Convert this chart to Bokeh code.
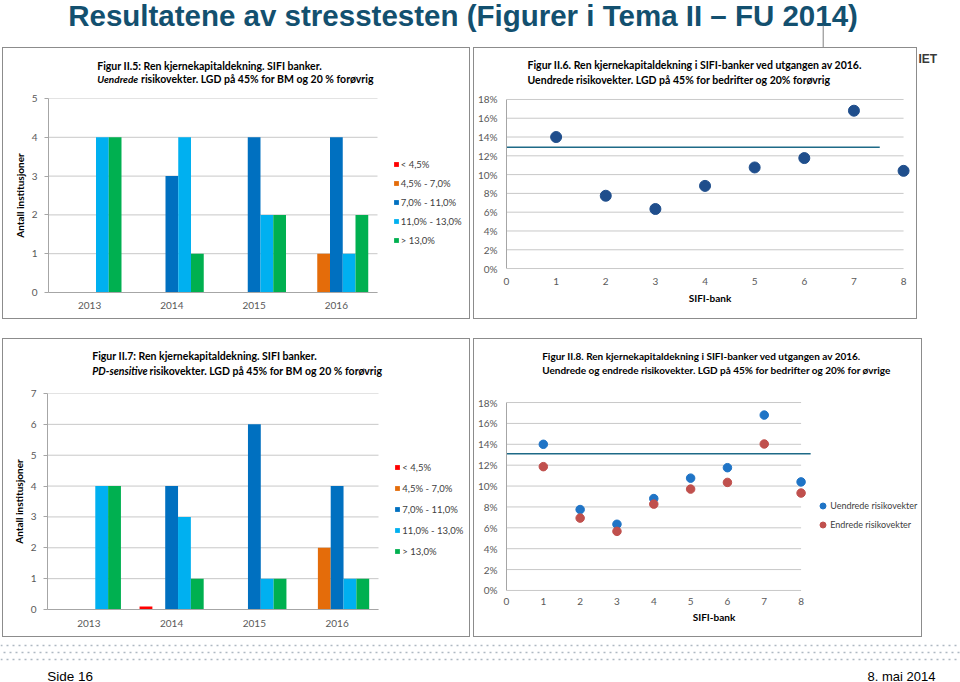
from bokeh.plotting import figure
from bokeh.models import (Range1d, FixedTicker, Legend, LegendItem,
                          NumeralTickFormatter, Spacer, ColumnDataSource)
from bokeh.layouts import column, row
from bokeh.transform import dodge
from bokeh.core.properties import value
from bokeh.embed import file_html
from bokeh.resources import INLINE

# ---------------- data ----------------
slide_title = "Resultatene av stresstesten (Figurer i Tema II \u2013 FU 2014)"
footer_left = "Side 16"
footer_right = "8. mai 2014"

years = ["2013", "2014", "2015", "2016"]
bands = ["< 4,5%", "4,5% - 7,0%", "7,0% - 11,0%", "11,0% - 13,0%", "> 13,0%"]
band_colors = ["#FF0000", "#E46C0A", "#0070C0", "#00B0F0", "#00B050"]

# Figur II.5 (uendrede risikovekter)
f5_lt45 = [0, 0, 0, 0]
f5_45_70 = [0, 0, 0, 1]
f5_70_110 = [0, 3, 4, 4]
f5_110_130 = [4, 4, 2, 1]
f5_gt130 = [4, 1, 2, 2]

# Figur II.7 (PD-sensitive risikovekter)
f7_lt45 = [0, 0.1, 0, 0]
f7_45_70 = [0, 0, 0, 2]
f7_70_110 = [0, 4, 6, 4]
f7_110_130 = [4, 3, 1, 1]
f7_gt130 = [4, 1, 1, 1]

# Figur II.6 / II.8
banks = [1, 2, 3, 4, 5, 6, 7, 8]
uendrede = [0.140, 0.0775, 0.0634, 0.088, 0.1076, 0.1176, 0.168, 0.104]
endrede = [0.1186, 0.0693, 0.0566, 0.0827, 0.0971, 0.1035, 0.1403, 0.0933]
f6_threshold = [0.129, 0.129]
f6_threshold_x = [0, 7.52]
f8_threshold = [0.131, 0.131]
f8_threshold_x = [0, 8.26]
pct_ticks = [0, 0.02, 0.04, 0.06, 0.08, 0.10, 0.12, 0.14, 0.16, 0.18]

# ---------------- style ----------------
CF = "Lato"
SF = "Liberation Sans"
GRID = "#C8C8C8"
AXIS = "#A6A6A6"
TICK = "#595959"
BORDER = "1px solid #8C8C8C"
bar_w = 0.155
bar_offsets = [-2 * bar_w, -bar_w, 0, bar_w, 2 * bar_w]
year_pos = [i + 0.5 for i in range(len(years))]   # category centres on the numeric axis


def strip(W, H):
    s = figure(width=W, height=H, x_range=Range1d(0, W), y_range=Range1d(H, 0),
               x_axis_type=None, y_axis_type=None, output_backend="svg",
               toolbar_location=None, min_border=0)
    s.outline_line_color = None
    s.grid.visible = False
    s.background_fill_color = "white"
    s.border_fill_color = "white"
    return s


def title_strip(W, H, parts):
    s = strip(W, H)
    for (x, y, txt, style, size) in parts:
        s.text(x=[x], y=[y], text=[txt], text_font=value(CF), text_font_style=style,
               text_font_size=size, text_color="#000000", text_baseline="middle")
    return s


def chart_fig(W, H, fl, ft, fw, fh, xr, yr):
    p = figure(width=W, height=H, x_range=xr, y_range=yr, output_backend="svg",
               toolbar_location=None, min_border_left=fl, min_border_top=ft,
               min_border_right=W - fl - fw, min_border_bottom=H - ft - fh)
    p.outline_line_color = None
    p.background_fill_color = "white"
    p.border_fill_color = "white"
    return p


def style_axes(p, label_size="10px"):
    for ax in (p.xaxis[0], p.yaxis[0]):
        ax.major_label_text_font = CF
        ax.major_label_text_font_size = label_size
        ax.major_label_text_color = TICK
        ax.minor_tick_line_color = None
        ax.major_tick_out = 0
        ax.major_tick_in = 0
        ax.axis_label_text_font = CF
        ax.axis_label_text_font_style = "bold"
        ax.axis_label_text_font_size = "10px"
        ax.axis_label_text_color = "#000000"


def hgrid(p, ticks, x_end):
    p.segment(x0=[0] * len(ticks), x1=[x_end] * len(ticks), y0=ticks, y1=ticks,
              line_color=GRID, line_width=1)


def bar_chart(W, H, fl, ft, fw_bars, fh, ymax, series, legend_xy, spacing, x_standoff):
    fw = W - fl - 2
    ncat = len(years)
    p = chart_fig(W, H, fl, ft, fw, fh, Range1d(0, ncat * fw / fw_bars), Range1d(0, ymax))
    yticks = list(range(ymax + 1))
    hgrid(p, yticks, ncat)
    data = {"xc": year_pos}
    for i, s in enumerate(series):
        data["s%d" % i] = s
    src = ColumnDataSource(data)
    items = []
    for i, (name, col) in enumerate(zip(bands, band_colors)):
        r = p.vbar(x=dodge("xc", bar_offsets[i]), top="s%d" % i,
                   width=bar_w, source=src, fill_color=col, line_color=None)
        items.append(LegendItem(label=name, renderers=[r]))
    style_axes(p)
    p.xgrid.grid_line_color = None
    p.ygrid.grid_line_color = None
    p.yaxis.ticker = FixedTicker(ticks=yticks)
    p.yaxis.axis_label = "Antall institusjoner"
    p.yaxis.axis_line_color = AXIS
    p.yaxis.major_tick_line_color = AXIS
    p.yaxis.major_tick_out = 4
    p.yaxis.major_label_standoff = 7
    p.yaxis.axis_label_standoff = 3
    p.xaxis.ticker = FixedTicker(ticks=year_pos)
    p.xaxis.major_label_overrides = {xp: y for xp, y in zip(year_pos, years)}
    p.xaxis.bounds = (0, ncat)
    p.xaxis.axis_line_color = AXIS
    p.xaxis.major_tick_line_color = None
    p.xaxis.major_label_standoff = x_standoff
    leg = Legend(items=items, location=legend_xy, padding=0, margin=0,
                 border_line_color=None, background_fill_alpha=0,
                 glyph_width=6, glyph_height=6, label_height=13, spacing=spacing,
                 label_standoff=2, label_text_font=CF, label_text_font_size="9.5px",
                 label_text_color="#404040")
    p.add_layout(leg)
    return p


def dot_chart(W, H, fl, ft, fw, fh, xmax):
    p = chart_fig(W, H, fl, ft, fw, fh, Range1d(0, xmax), Range1d(-0.001, 0.181))
    style_axes(p)
    p.xgrid.grid_line_color = None
    p.ygrid.grid_line_color = None
    hgrid(p, pct_ticks, banks[-1])
    p.yaxis.ticker = FixedTicker(ticks=pct_ticks)
    p.yaxis.formatter = NumeralTickFormatter(format="0%")
    p.yaxis.bounds = (0, 0.18)
    p.yaxis.axis_line_color = AXIS
    p.yaxis.major_tick_line_color = None
    p.yaxis.major_label_standoff = 9
    p.xaxis.ticker = FixedTicker(ticks=[0] + banks)
    p.xaxis.bounds = (0, banks[-1])
    p.xaxis.axis_line_color = None
    p.xaxis.major_tick_line_color = None
    p.xaxis.axis_label = "SIFI-bank"
    return p


def panel(strip_fig, chart):
    return column(column(strip_fig), column(chart), styles={"border": BORDER})


# ---------------- title strip ----------------
title_fig = strip(960, 47)
title_fig.text(x=[67.7], y=[14.5], text=[slide_title], text_font=value(SF),
               text_font_style="bold", text_font_size="29.5px", text_color="#13506F",
               text_baseline="middle")
title_fig.segment(x0=[822.7], y0=[25], x1=[822.7], y1=[47], line_color="#808080", line_width=1)

# ---------------- Figur II.5 ----------------
s1 = title_strip(466, 40, [
    (93.7, 17.7, "Figur II.5: Ren kjernekapitaldekning. SIFI banker.", "bold", "10.5px"),
    (93.7, 30.3, "Uendrede", "bold italic", "10px"),
    (137.5, 30.3, "risikovekter. LGD p\u00e5 45% for BM og 20 % for\u00f8vrig", "bold", "10.5px"),
])
p1 = bar_chart(466, 230, 45, 10, 329, 194, 5,
               [f5_lt45, f5_45_70, f5_70_110, f5_110_130, f5_gt130], (344.7, 45.5), 6, 9)

# ---------------- Figur II.6 ----------------
s2 = title_strip(442, 40, [
    (53, 16.3, "Figur II.6. Ren kjernekapitaldekning i SIFI-banker ved utgangen av 2016.", "bold", "10.5px"),
    (53, 31.3, "Uendrede risikovekter. LGD p\u00e5 45% for bedrifter og 20% for\u00f8vrig", "bold", "10.5px"),
])
p2 = dot_chart(442, 230, 32, 10, 407, 171, 8.2)
p2.xaxis.major_label_standoff = 8
p2.xaxis.axis_label_standoff = 4
p2.line(x=f6_threshold_x, y=f6_threshold, line_color="#1E6A87", line_width=1.5)
p2.scatter(x=banks, y=uendrede, size=11, fill_color="#1F4E8C", line_color="#1F4E8C")

logo = strip(43, 272)
logo.text(x=[1], y=[11.3], text=["IET"], text_font=value(SF),
          text_font_style="bold", text_font_size="12px", text_color="#3A3A3A",
          text_baseline="middle")

# ---------------- Figur II.7 ----------------
s3 = title_strip(466, 42, [
    (88.7, 16.7, "Figur II.7: Ren kjernekapitaldekning. SIFI banker.", "bold", "10.5px"),
    (88.7, 31.7, "PD-sensitive", "bold italic", "10.5px"),
    (146, 31.7, "risikovekter. LGD p\u00e5 45% for BM og 20 % for\u00f8vrig", "bold", "10.5px"),
])
p3 = bar_chart(466, 255, 44, 12, 331, 216, 7,
               [f7_lt45, f7_45_70, f7_70_110, f7_110_130, f7_gt130], (347.3, 51.2), 8, 10)

# ---------------- Figur II.8 ----------------
s4 = title_strip(447, 42, [
    (67.7, 16, "Figur II.8. Ren kjernekapitaldekning i SIFI-banker ved utgangen av 2016.", "bold", "10px"),
    (67.7, 30, "Uendrede og endrede risikovekter. LGD p\u00e5 45% for bedrifter og 20% for \u00f8vrige", "bold", "10px"),
])
p4 = dot_chart(447, 255, 30, 20, 417, 190, 417 / 37.0)
p4.xaxis.major_label_standoff = 6
p4.xaxis.axis_label_standoff = 3
p4.line(x=f8_threshold_x, y=f8_threshold, line_color="#1E6A87", line_width=1.5)
r_u = p4.scatter(x=banks, y=uendrede, size=8.5, fill_color="#1F74C6", line_color="#1F74C6")
r_e = p4.scatter(x=banks, y=endrede, size=8.5, fill_color="#C0504D", line_color="#C0504D")
leg4 = Legend(items=[LegendItem(label="Uendrede risikovekter", renderers=[r_u]),
                     LegendItem(label="Endrede risikovekter", renderers=[r_e])],
              location=(309.2, 59.5), padding=0, margin=0, border_line_color=None,
              background_fill_alpha=0, glyph_width=15, glyph_height=15, label_height=13,
              spacing=4, label_standoff=0, label_text_font=CF, label_text_font_size="9px",
              label_text_color="#404040")
p4.add_layout(leg4)

# ---------------- footer ----------------
footer = strip(960, 45)
footer.multi_line(xs=[[0, 960], [3, 960], [0, 960]], ys=[[8, 8], [15, 15], [22, 22]],
                  line_dash="2 4", line_color="#AEB9C2", line_width=1.5)
footer.text(x=[46.7], y=[38.5], text=[footer_left], text_font=value(SF),
            text_font_size="13.5px", text_color="#000000", text_baseline="middle")
footer.text(x=[935], y=[38.5], text=[footer_right], text_font=value(SF),
            text_font_size="13px", text_color="#000000", text_baseline="middle",
            text_align="right")

layout = column(
    title_fig,
    row(Spacer(width=2, height=272), panel(s1, p1), Spacer(width=3, height=272),
        panel(s2, p2), logo),
    Spacer(width=960, height=19),
    row(Spacer(width=2, height=299), panel(s3, p3), Spacer(width=3, height=299),
        panel(s4, p4)),
    footer,
)

open("out.html", "w").write(file_html(layout, INLINE))
